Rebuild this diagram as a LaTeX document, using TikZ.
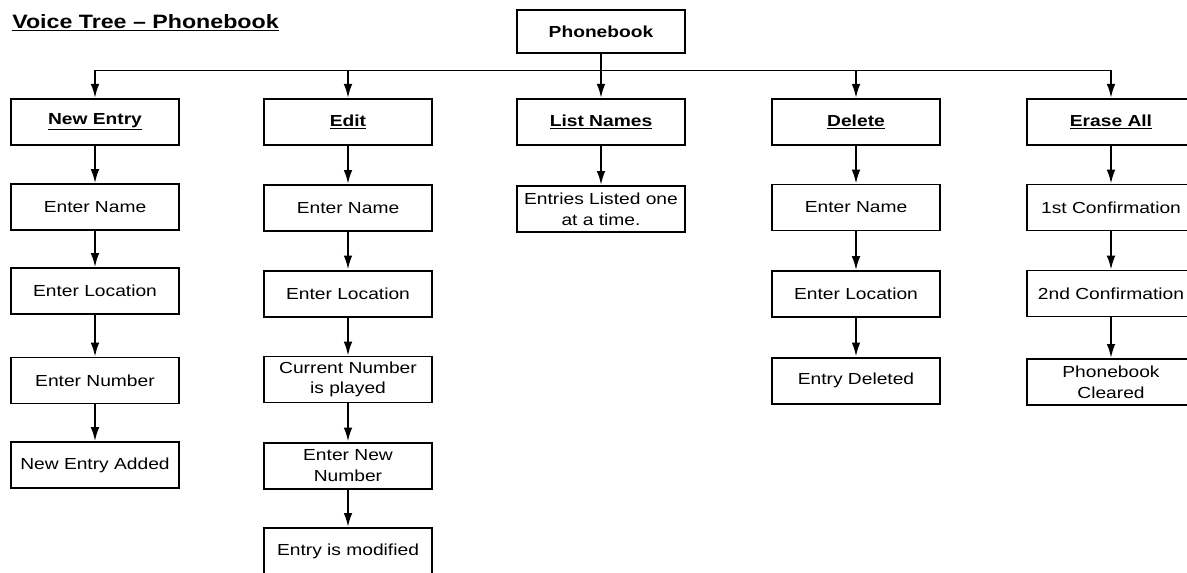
\documentclass[tikz,border=0pt]{standalone}
\usepackage{fontspec}
\setmainfont{Liberation Sans}[FakeStretch=1.2]
\usetikzlibrary{arrows.meta}
\tikzset{
  box/.style={draw, line width=1.2pt, minimum width=126pt, minimum height=34.5pt,
    inner sep=0pt, align=center, font=\fontsize{12pt}{15.5pt}\selectfont},
  headbox/.style={box, line width=1.6pt, font=\bfseries\fontsize{12pt}{15.5pt}\selectfont},
  arr/.style={line width=1.5pt, -{Latex[length=10.5pt,width=6.5pt]}},
  bus/.style={line width=0.75pt}
}
\begin{document}
\begin{tikzpicture}[x=0.75pt,y=-0.75pt]
\useasboundingbox (0,0) rectangle (1187,572);
\clip (0,0) rectangle (1187,572);
% title
\node[anchor=base west, inner sep=0pt, font=\bfseries\fontsize{14.5pt}{16pt}\selectfont] (title) at (12,28) {\underline{Voice Tree -- Phonebook}};
% root
\node[headbox, minimum height=32pt] (pb) at (601,31.5) {Phonebook};
% top level
\node[headbox] (ne) at (95,122) {\underline{New Entry}};
\node[headbox] (ed) at (348,122) {\underline{Edit}};
\node[headbox] (ln) at (601,122) {\underline{List Names}};
\node[headbox] (de) at (856,122) {\underline{Delete}};
\node[headbox] (ea) at (1111,122) {\underline{Erase All}};
% bus
\coordinate (b1) at (95,70);
\coordinate (b2) at (348,70);
\coordinate (b4) at (856,70);
\coordinate (b5) at (1111,70);
\draw[bus] (b1) -- (b5);
\draw[arr] (pb) -- (ln);
\draw[arr] (b1) -- (ne);
\draw[arr] (b2) -- (ed);
\draw[arr] (b4) -- (de);
\draw[arr] (b5) -- (ea);
% New Entry column
\node[box] (ne1) at (95,207) {Enter Name};
\node[box] (ne2) at (95,291) {Enter Location};
\node[box] (ne3) at (95,380.5) {Enter Number};
\node[box] (ne4) at (95,465) {New Entry Added};
\draw[arr] (ne) -- (ne1);
\draw[arr] (ne1) -- (ne2);
\draw[arr] (ne2) -- (ne3);
\draw[arr] (ne3) -- (ne4);
% Edit column
\node[box, line width=1.5pt] (ed1) at (348,208) {Enter Name};
\node[box, line width=1.5pt] (ed2) at (348,293.5) {Enter Location};
\node[box] (ed3) at (348,379.5) {Current Number\\is played};
\node[box, line width=1.5pt] (ed4) at (348,465.5) {Enter New\\Number};
\node[box, line width=1.5pt] (ed5) at (348,551) {Entry is modified};
\draw[arr] (ed) -- (ed1);
\draw[arr] (ed1) -- (ed2);
\draw[arr] (ed2) -- (ed3);
\draw[arr] (ed3) -- (ed4);
\draw[arr] (ed4) -- (ed5);
% List Names column
\node[box, line width=1.5pt] (ln1) at (601,209) {Entries Listed one\\at a time.};
\draw[arr] (ln) -- (ln1);
% Delete column
\node[box] (de1) at (856,207.5) {Enter Name};
\node[box] (de2) at (856,294) {Enter Location};
\node[box, line width=1.5pt] (de3) at (856,380.5) {Entry Deleted};
\draw[arr] (de) -- (de1);
\draw[arr] (de1) -- (de2);
\draw[arr] (de2) -- (de3);
% Erase All column
\node[box] (ea1) at (1111,207.5) {1st Confirmation};
\node[box] (ea2) at (1111,293.5) {2nd Confirmation};
\node[box, line width=1.5pt] (ea3) at (1111,382) {Phonebook\\Cleared};
\draw[arr] (ea) -- (ea1);
\draw[arr] (ea1) -- (ea2);
\draw[arr] (ea2) -- (ea3);
\end{tikzpicture}
\end{document}
